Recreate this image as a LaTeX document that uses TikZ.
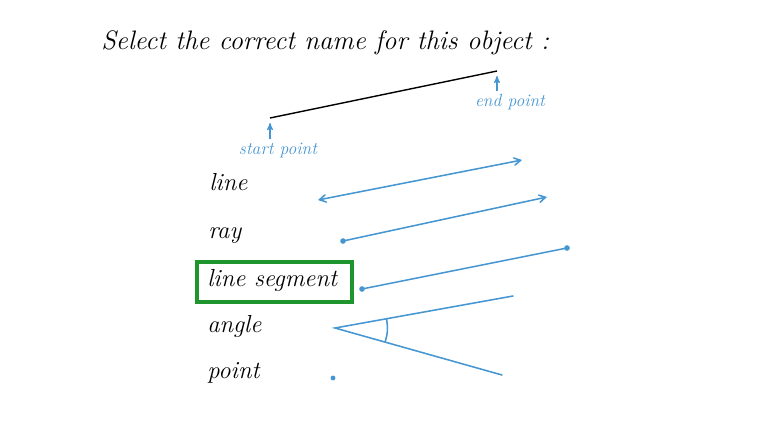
\documentclass[tikz,border=0pt]{standalone}
\usepackage{tikz}
\usetikzlibrary{calc}
\usetikzlibrary{arrows}
\definecolor{penblue}{RGB}{70,150,210}
\definecolor{pengreen}{RGB}{30,150,45}
\tikzset{
  word/.style={font=\fontsize{17.5}{21}\selectfont\itshape, anchor=base west, inner sep=0pt},
  note/.style={font=\fontsize{12.5}{15}\selectfont\itshape, text=penblue, inner sep=0pt},
  pen/.style={penblue, line width=1.1pt, line cap=round},
  tick/.style={penblue, line width=0.8pt, -stealth'},
  dot/.style={circle, fill=penblue, inner sep=0pt, minimum size=4pt}
}
\begin{document}
\begin{tikzpicture}[x=0.025cm, y=-0.025cm]
        \useasboundingbox (0,0) rectangle (760,427);

        % question
        \node [word, font=\fontsize{19}{23}\selectfont\itshape] (title) at (101,50) {Select the correct name for this object :};

        % the object
        \coordinate (S) at (270,118);
        \coordinate (E) at (497,71);
        \draw [line width=1pt] (S) -- (E);

        \node [note] (endtext) at (510,102) {end point};
        \node [note] (starttext) at (278,150) {start point};
        \draw [tick] (endtext.north -| E) ++(0,-3) -- ($(E)+(0,5)$);
        \draw [tick] (starttext.north -| S) ++(0,-3) -- ($(S)+(0,5)$);

        % answers
        \node [word] (line) at (209,190) {line};
        \node [word] (ray) at (208,238) {ray};
        \node [word] (segment) at (207,286) {line segment};
        \node [word] (angle) at (207,332) {angle};
        \node [word] (point) at (207,378) {point};

        % the right answer
        \node [draw=pengreen, line width=2.4pt, minimum width=155*0.025cm, minimum height=40*0.025cm,
               inner sep=0pt] (box) at (274.5,282) {};

        % line
        \coordinate (L1) at (318,200);
        \coordinate (L2) at (522,160);
        \draw [pen, angle 60-angle 60] (L1) -- (L2);

        % ray
        \node [dot] (R1) at (343,241) {};
        \coordinate (R2) at (547,197);
        \draw [pen, -angle 60] (R1.center) -- (R2);

        % segment
        \node [dot] (G1) at (362,289) {};
        \node [dot] (G2) at (567,248) {};
        \draw [pen] (G1.center) -- (G2.center);

        % angle
        \coordinate (V) at (335,328);
        \coordinate (A1) at (513,296);
        \coordinate (A2) at (502,375);
        \draw [pen] (A1) -- (V) -- (A2);
        \draw [pen] ($(V)!0.29!(A1)$) .. controls ($(V)+(53,3)$) .. ($(V)!0.3!(A2)$);

        % point
        \node [dot, minimum size=3.5pt] (P) at (333,378) {};

\end{tikzpicture}
\end{document}
